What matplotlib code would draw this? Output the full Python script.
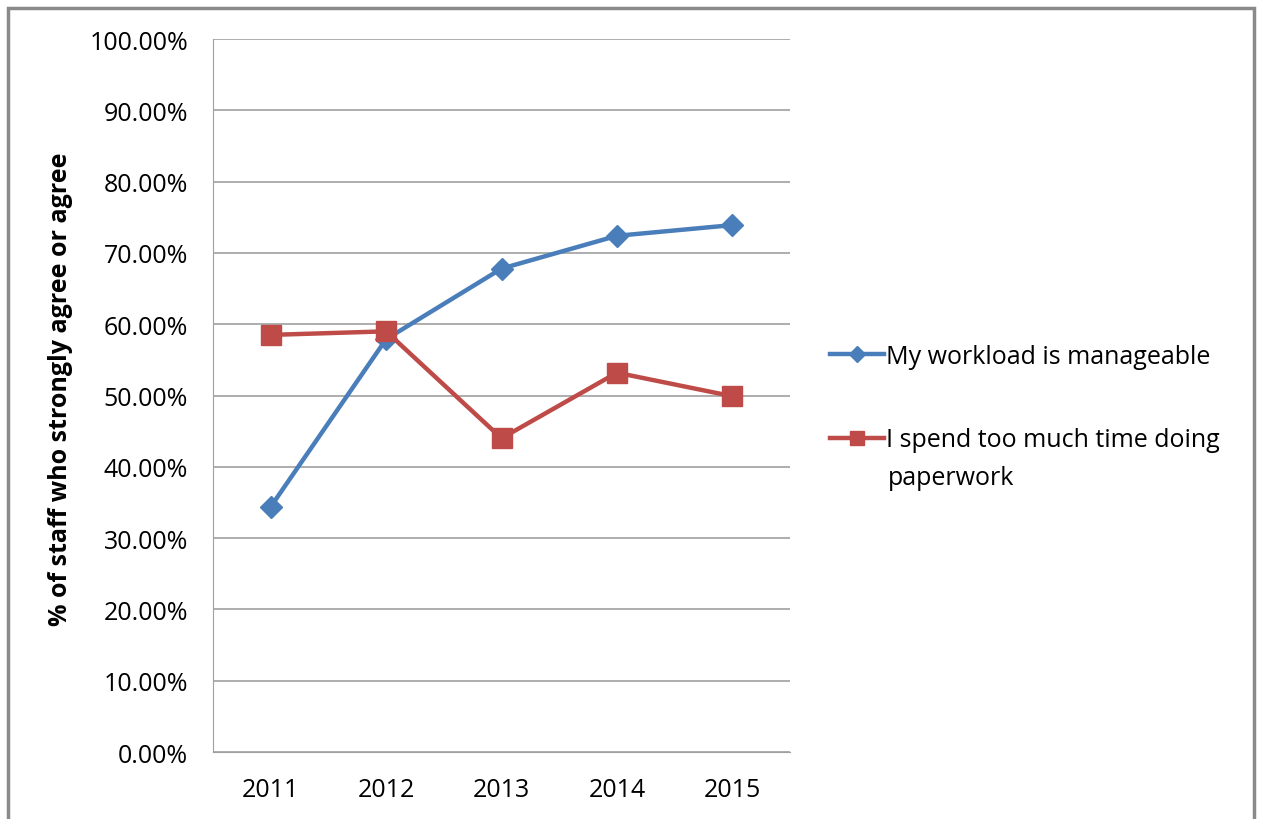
import numpy as np
import matplotlib.pyplot as plt
from matplotlib.patches import Rectangle
from matplotlib.ticker import FuncFormatter

plt.rcParams['font.family'] = ['Open Sans', 'DejaVu Sans']

years = ['2011', '2012', '2013', '2014', '2015']
workload = [34.4, 57.9, 67.8, 72.4, 73.9]
paperwork = [58.5, 59.0, 44.0, 53.2, 49.9]

fig = plt.figure(figsize=(12.62, 8.2), dpi=100)
ax = fig.add_axes([0.1688, 0.0817, 0.4572, 0.8695])

x = np.arange(len(years))
l1, = ax.plot(x, workload, '-D', color='#4a7ebb', lw=3.2, markersize=11,
              label='My workload is manageable')
l2, = ax.plot(x, paperwork, '-s', color='#be4b48', lw=3.2, markersize=14.5,
              label='I spend too much time doing')

ax.set_xlim(-0.5, 4.5)
ax.set_ylim(0, 100)
ax.set_yticks(np.arange(0, 101, 10))
ax.yaxis.set_major_formatter(FuncFormatter(lambda v, p: '%.2f%%' % v))
ax.set_xticks(x)
ax.set_xticklabels(years)
ax.grid(axis='y', color='#a0a0a0', lw=1.2)
ax.set_axisbelow(True)
for s in ['top', 'right']:
    ax.spines[s].set_visible(False)
ax.spines['left'].set_color('#a0a0a0')
ax.spines['bottom'].set_color('#a0a0a0')
ax.tick_params(axis='y', length=0, labelsize=18, pad=18)
ax.tick_params(axis='x', length=0, labelsize=18, pad=18)
ax.set_ylabel('% of staff who strongly agree or agree', fontsize=18,
              fontweight='bold', labelpad=12, y=0.51)

# legend: one entry each so the wrapped label lines up like the original
kw = dict(loc='center left', frameon=False, fontsize=18, handlelength=2.15,
          handletextpad=0.1, borderpad=0, borderaxespad=0, markerscale=0.7)
leg1 = fig.legend(handles=[l1], bbox_to_anchor=(0.6577, 0.564), **kw)
leg2 = fig.legend(handles=[l2], bbox_to_anchor=(0.6577, 0.4622), **kw)
fig.text(0.7035, 0.417, 'paperwork', fontsize=18, va='center', ha='left')

fig.patches.append(Rectangle((0.006, -0.01), 0.988, 0.999, transform=fig.transFigure,
                             fill=False, edgecolor='#8a8a8a', lw=2.5))

fig.savefig('out.png', dpi=100)
